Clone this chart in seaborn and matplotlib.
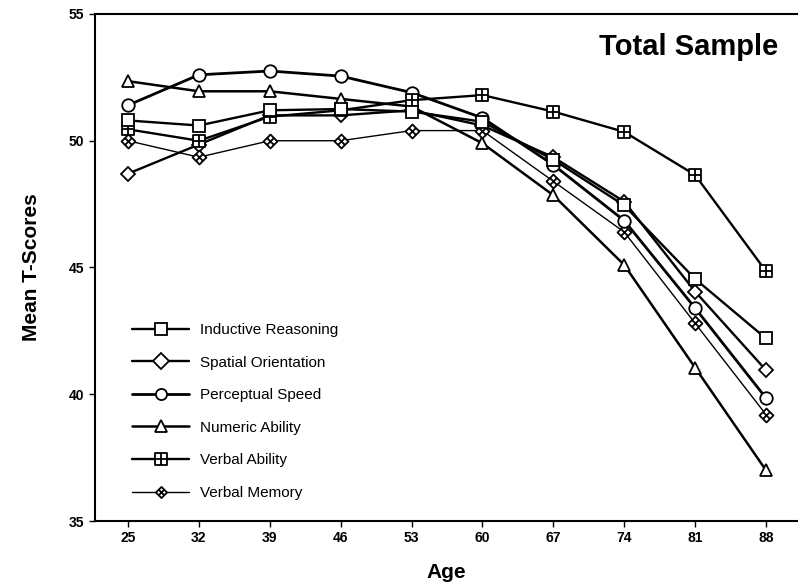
import matplotlib
matplotlib.use('Agg')
import matplotlib.pyplot as plt
import seaborn as sns
import numpy as np
from matplotlib.path import Path

### Mean T-scores by age for six abilities (total sample)

ages = [25, 32, 39, 46, 53, 60, 67, 74, 81, 88]
inductive_reasoning = [50.8, 50.6, 51.2, 51.25, 51.15, 50.75, 49.25, 47.45, 44.55, 42.2]
spatial_orientation = [48.7, 49.85, 51.0, 51.0, 51.2, 50.6, 49.35, 47.6, 44.05, 40.95]
perceptual_speed = [51.4, 52.6, 52.75, 52.55, 51.9, 50.9, 49.05, 46.85, 43.4, 39.85]
numeric_ability = [52.35, 51.95, 51.95, 51.65, 51.35, 49.9, 47.85, 45.1, 41.05, 37.0]
verbal_ability = [50.45, 50.0, 50.95, 51.2, 51.6, 51.8, 51.15, 50.35, 48.65, 44.85]
verbal_memory = [50.0, 49.35, 50.0, 50.0, 50.4, 50.4, 48.4, 46.4, 42.8, 39.2]
series_names = ['Inductive Reasoning', 'Spatial Orientation', 'Perceptual Speed',
                'Numeric Ability', 'Verbal Ability', 'Verbal Memory']


def box_cross():
    verts = [(-1, -1), (1, -1), (1, 1), (-1, 1), (-1, -1),
             (0, -1), (0, 1), (-1, 0), (1, 0)]
    codes = [Path.MOVETO, Path.LINETO, Path.LINETO, Path.LINETO, Path.CLOSEPOLY,
             Path.MOVETO, Path.LINETO, Path.MOVETO, Path.LINETO]
    return Path(verts, codes)


def diamond_cross():
    verts = [(0, -1), (1, 0), (0, 1), (-1, 0), (0, -1),
             (-0.5, -0.5), (0.5, 0.5), (-0.5, 0.5), (0.5, -0.5)]
    codes = [Path.MOVETO, Path.LINETO, Path.LINETO, Path.LINETO, Path.CLOSEPOLY,
             Path.MOVETO, Path.LINETO, Path.MOVETO, Path.LINETO]
    return Path(verts, codes)


sns.set_style('ticks')
plt.rcParams['font.family'] = ['Liberation Sans', 'DejaVu Sans']
plt.rcParams['text.color'] = 'black'
plt.rcParams['axes.labelcolor'] = 'black'

fig = plt.figure(figsize=(7.98, 5.87), dpi=100)
ax = fig.add_axes([0.119, 0.1124, 0.881, 0.8638])

values = [inductive_reasoning, spatial_orientation, perceptual_speed,
          numeric_ability, verbal_ability, verbal_memory]
markers = ['s', 'D', 'o', '^', box_cross(), diamond_cross()]
sizes = [9, 7.5, 9, 8.5, 9, 10]
widths = [1.7, 1.7, 2.0, 1.8, 1.7, 1.0]
zorders = [5, 3, 4, 2, 4, 3]

for name, vals, mk, ms, lw, zo in zip(series_names, values, markers, sizes, widths, zorders):
    sns.lineplot(x=ages, y=vals, ax=ax, color='black', linewidth=lw,
                 marker=mk, markersize=ms, markerfacecolor='white',
                 markeredgecolor='black', markeredgewidth=1.3, label=name, zorder=zo)

ax.set_xlim(21.74, 91.16)
ax.set_ylim(35, 55)
ax.set_xticks(ages)
ax.set_yticks([35, 40, 45, 50, 55])
ax.spines['right'].set_visible(False)
for side in ['left', 'bottom', 'top']:
    ax.spines[side].set_linewidth(1.5)
    ax.spines[side].set_color('black')
ax.tick_params(axis='both', direction='out', length=4, width=1, colors='black')
for lab in ax.get_xticklabels() + ax.get_yticklabels():
    lab.set_family(['Liberation Sans Narrow', 'Liberation Sans'])
    lab.set_fontweight('bold')
    lab.set_fontsize(10)

ax.set_xlabel('Age', fontsize=15, fontweight='bold', labelpad=13)
ax.set_ylabel('Mean T-Scores', fontsize=15, fontweight='bold', labelpad=20)
ax.text(0.972, 0.935, 'Total Sample', transform=ax.transAxes, ha='right', va='center',
        fontsize=21, fontweight='bold')

leg = ax.legend(loc='lower left', bbox_to_anchor=(0.166, 0.148), bbox_transform=fig.transFigure,
                frameon=False, fontsize=11, handlelength=3.7, handletextpad=0.75,
                labelspacing=1.22, borderaxespad=0, borderpad=0)
for h in leg.legend_handles:
    h.set_markersize(8)

fig.savefig('out.png', dpi=100)
